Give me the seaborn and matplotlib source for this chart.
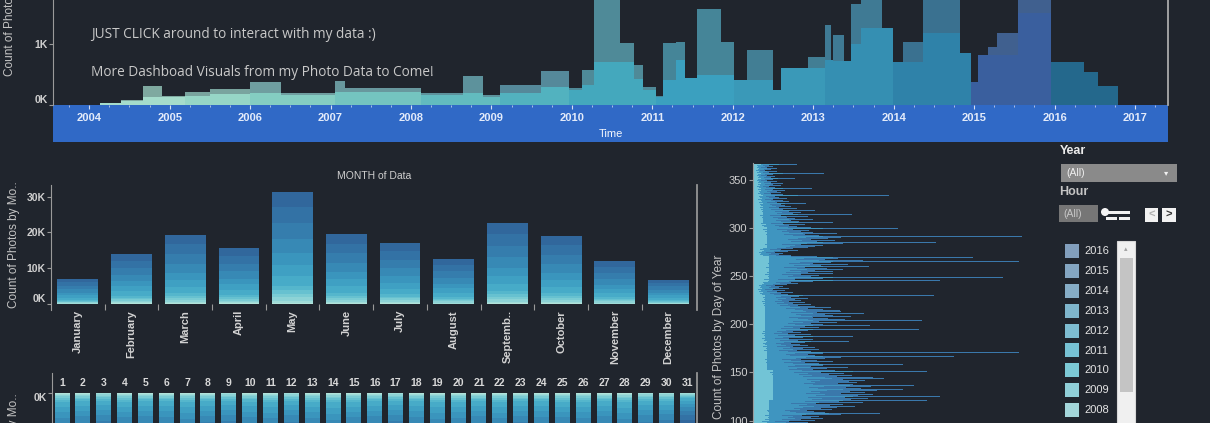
import numpy as np
import matplotlib
matplotlib.use("Agg")
import matplotlib.pyplot as plt
from matplotlib.patches import Rectangle, Circle
import seaborn as sns

BG = "#20252d"
W, H = 1210, 423

# timeline: start of each step (decimal year), back / front heights (photos)
tl_start = [2004.14, 2004.39, 2004.67, 2004.90, 2005.19, 2005.50, 2006.00, 2006.38,
            2007.06, 2007.18, 2008.12, 2008.65, 2008.90, 2009.11, 2009.61, 2009.96,
            2010.13, 2010.27, 2010.60, 2010.77, 2010.88, 2011.04, 2011.13, 2011.29,
            2011.41, 2011.56, 2011.85, 2012.01, 2012.18, 2012.50, 2012.60, 2012.94,
            2013.15, 2013.22, 2013.25, 2013.38, 2013.47, 2013.59, 2013.86, 2013.99,
            2014.12, 2014.36, 2014.83, 2014.96, 2015.05, 2015.17, 2015.29, 2015.54,
            2015.95, 2016.36, 2016.54]
tl_back = [30, 80, 310, 150, 210, 260, 380, 200,
           390, 280, 200, 475, 160, 330, 560, 275,
           575, 2100, 1015, 655, 290, 150, 1015, 1040,
           440, 1570, 1040, 410, 900, 245, 600, 790,
           1310, 740, 1150, 720, 1660, 2200, 1260, 705,
           1035, 2000, 850, 380, 820, 950, 1180, 2300,
           705, 540, 310]
tl_front = [30, 60, 130, 130, 150, 180, 200, 170,
            220, 220, 160, 200, 130, 200, 290, 250,
            330, 705, 705, 430, 250, 130, 410, 740,
            440, 490, 490, 410, 410, 245, 600, 600,
            740, 740, 720, 720, 1000, 1260, 1260, 705,
            705, 1180, 850, 380, 820, 820, 820, 1500,
            705, 540, 310]
tl_end = 2016.79
tl_ticks = list(range(2004, 2018))

years = list(range(2004, 2017))
year_front = ["#a5dccb", "#96d6c6", "#84cdc2", "#74c4c0", "#62bbbf", "#52b2bf", "#44a8bd",
              "#3ba0bf", "#3a99b8", "#358fb2", "#2f82a9", "#3a5f9e", "#24688c"]
year_back = ["#7fa9a0", "#79a49e", "#6f9ea0", "#68989e", "#5d929c", "#55899a", "#4f8a98",
             "#458598", "#427e94", "#3f7a94", "#3a7190", "#40608f", "#2b6589"]
year_share = [0.01, 0.02, 0.03, 0.03, 0.03, 0.04, 0.09, 0.10, 0.10, 0.13, 0.14, 0.14, 0.14]
stack_colors = ["#b2e3da", "#a0dcd8", "#8dd3d6", "#7acbd3", "#67c1d0", "#55b6cc", "#47abc8",
                "#3fa0c3", "#3a95bd", "#3789b5", "#357dad", "#3372a5", "#31679c"]

months = ["January", "February", "March", "April", "May", "June", "July",
          "August", "September", "October", "November", "December"]
month_labels = ["January", "February", "March", "April", "May", "June", "July",
                "August", "Septemb..", "October", "November", "December"]
month_counts = [7070, 14050, 19350, 15700, 31400, 19600, 17100, 12650, 22600, 19070, 11900, 6800]

dom_days = [str(d) for d in range(1, 32)]
dom_counts = [6900, 6400, 6100, 6800, 6500, 6600, 7200, 6300, 6000, 6700, 7000, 6200, 6900,
              7400, 6800, 6400, 6100, 6600, 7100, 6900, 6500, 7000, 6300, 6600, 6800, 6900,
              6400, 7300, 6200, 5900, 3900]

doy_first = 92
doy_counts = [45, 38, 52, 60, 41, 47, 55, 36, 62, 48,
              70, 58, 66, 49, 88, 127, 72, 61, 54, 79,
              95, 68, 84, 102, 77, 90, 63, 110, 86, 174,
              98, 115, 92, 187, 105, 120, 88, 112, 97, 124,
              150, 108, 93, 118, 161, 100, 85, 117, 104, 96,
              112, 90, 131, 120, 84, 99, 76, 91, 68, 174,
              82, 60, 74, 95, 58, 70, 150, 66, 52, 80,
              64, 48, 72, 57, 88, 201, 62, 55, 70, 266,
              58, 44, 66, 50, 62, 40, 55, 47, 38, 52,
              96, 45, 60, 36, 50, 100, 42, 58, 35, 48,
              62, 40, 55, 166, 47, 66, 52, 117, 70, 58,
              84, 66, 169, 92, 75, 60, 98, 80, 72, 111,
              64, 88, 87, 70, 55, 78, 50, 62, 45, 58,
              40, 52, 36, 48, 42, 55, 38, 46, 181, 35,
              28, 40, 24, 32, 20, 36, 26, 30, 22, 34,
              45, 38, 52, 60, 187, 42, 70, 250, 58, 66,
              48, 80, 55, 80, 62, 90, 74, 52, 116, 68,
              95, 60, 78, 266, 110, 72, 85, 220, 64, 50,
              38, 26, 30, 22, 35, 45, 28, 40, 55, 62,
              70, 48, 90, 183, 64, 82, 58, 75, 88, 269,
              66, 52, 84, 60, 48, 72, 56, 40, 145, 58,
              44, 36, 52, 30, 80, 46, 38, 60, 42, 34,
              55, 28, 99, 40, 48, 36, 62, 30, 44, 26,
              38, 50, 32, 28, 53, 24, 36, 30, 20, 34,
              26, 22, 136, 30, 18, 28, 24, 32, 20, 59,
              22, 16, 28, 20, 30, 18, 24, 14, 26, 20,
              42, 18, 22, 14, 20, 71, 16, 24, 12, 18,
              24, 14, 20, 16, 44]
month_len = [31, 29, 31, 30, 31, 30, 31, 31, 30, 31, 30, 31]
# how far the older-year colours reach in each month (same units as doy_counts)
doy_light_cap = [10, 10, 12, 16, 20, 14, 12, 12, 16, 14, 10, 8]
doy_mid_cap = [40, 50, 60, 90, 100, 70, 60, 50, 80, 70, 45, 30]
doy_light_share = 0.25
doy_mid_share = 0.6

legend_years = ["2016", "2015", "2014", "2013", "2012", "2011", "2010", "2009", "2008"]
legend_colors = ["#829fbd", "#84a6c2", "#86adc7", "#7fb6cd", "#7ebdd2", "#77c2d4",
                 "#7cc9d6", "#90cfd8", "#a3d6da"]

sns.set_theme(style="dark", rc={"figure.facecolor": BG, "axes.facecolor": BG,
                                "savefig.facecolor": BG})
plt.rcParams["font.family"] = ["Liberation Sans", "DejaVu Sans"]

TXT = "#cfcfcf"
SPINE = "#9a9a9a"

fig = plt.figure(figsize=(W / 100, H / 100), dpi=100)
ov = fig.add_axes([0, 0, 1, 1], zorder=0)
ov.set_xlim(0, W)
ov.set_ylim(H, 0)
ov.axis("off")


def px_axes(x0, y0, x1, y1):
    ax = fig.add_axes([x0 / W, 1 - y1 / H, (x1 - x0) / W, (y1 - y0) / H], zorder=1)
    ax.set_facecolor("none")
    for s in ax.spines.values():
        s.set_visible(False)
    return ax


def style_y(ax, ticks, labels, bold=True, size=7.5):
    ax.set_yticks(ticks)
    ax.set_yticklabels(labels, fontsize=size, color=TXT, fontweight="bold" if bold else "normal")
    ax.tick_params(axis="y", length=3, width=0.8, color=SPINE, pad=1, left=True)
    ax.spines["left"].set_visible(True)
    ax.spines["left"].set_color(SPINE)
    ax.spines["left"].set_linewidth(0.8)


# ---- timeline
axA = px_axes(53, 0, 1168, 105)
bounds = tl_start[1:] + [tl_end]
for x0, x1, b in zip(tl_start, bounds, tl_back):
    k = years.index(int(x0 + 0.05))
    axA.fill_between([x0, x1], 0, b, color=year_back[k], lw=0)
for x0, x1, f in zip(tl_start, bounds, tl_front):
    k = years.index(int(x0 + 0.05))
    axA.fill_between([x0, x1], 0, f, color=year_front[k], lw=0)
axA.set_xlim(2003.55, 2017.41)
axA.set_ylim(0, 1721)
axA.set_xticks(tl_ticks)
axA.set_xticklabels([str(t) for t in tl_ticks], fontsize=8, color="#e3ebfa", fontweight="bold")
axA.set_xticks(np.arange(2003.75, 2017.4, 0.25), minor=True)
axA.tick_params(axis="x", which="major", length=3, width=0.8, color="#d5def2", pad=3, bottom=True)
axA.tick_params(axis="x", which="minor", length=1.5, width=0.6, color="#c0cdea", bottom=True)
axA.set_xlabel("Time", fontsize=8, color="#f2f5fc", labelpad=4)
style_y(axA, [0, 1000], ["0K", "1K"])
axA.get_yticklabels()[0].set_verticalalignment("bottom")
axA.spines["right"].set_visible(True)
axA.spines["right"].set_color("#b0b0b0")
axA.grid(False)
ov.add_patch(Rectangle((53, 105), 1115, 37, color="#3069c6", lw=0))
fig.text(10 / W, 1 - 76 / H, "Count of Photos", rotation=90, va="bottom", ha="center",
         fontsize=8.5, color="#c4c4c4")
fig.text(91 / W, 1 - 34 / H, "JUST CLICK around to interact with my data :)", va="center",
         fontsize=9.8, color="#c9c9c9", family="Open Sans")
fig.text(91 / W, 1 - 73 / H, "More Dashboad Visuals from my Photo Data to Come!", va="center",
         fontsize=9.8, color="#c9c9c9", family="Open Sans")

# ---- month bars
axB = px_axes(51, 185, 697, 310)
cum_share = np.cumsum(year_share)
for k in range(len(years) - 1, -1, -1):
    sns.barplot(x=months, y=np.array(month_counts) * cum_share[k], order=months,
                color=stack_colors[k], width=0.76, saturation=1, errorbar=None,
                linewidth=0, ax=axB)
axB.set_xlim(-0.5, 11.53)
axB.set_ylim(-1680, 33240)
axB.set_xticks(range(12))
axB.set_xticklabels(month_labels, rotation=90, fontsize=8, color="#d2d2d2", fontweight="bold")
axB.set_xticks(np.arange(0.5, 11.5, 1), minor=True)
axB.tick_params(axis="x", which="major", length=0, pad=0)
axB.tick_params(axis="x", which="minor", length=4, width=0.8, color=SPINE, direction="in",
                bottom=True)
style_y(axB, [0, 10000, 20000, 30000], ["0K", "10K", "20K", "30K"])
axB.get_yticklabels()[0].set_verticalalignment("bottom")
axB.spines["right"].set_visible(True)
axB.spines["right"].set_color(SPINE)
axB.set_xlabel("")
axB.set_ylabel("")
axB.set_title("MONTH of Data", fontsize=7.5, color=TXT, pad=4)
fig.text(14 / W, 1 - 245 / H, "Count of Photos by Mo..", rotation=90, va="center",
         ha="center", fontsize=8.5, color="#c4c4c4")

# ---- day of month bars
axC = px_axes(52, 373, 697, 553)
for k in range(len(years) - 1, -1, -1):
    sns.barplot(x=dom_days, y=np.array(dom_counts) * cum_share[k], order=dom_days,
                color=stack_colors[k], width=0.72, saturation=1, errorbar=None,
                linewidth=0, ax=axC)
axC.set_xlim(-0.48, 30.46)
axC.set_ylim(20000, -2500)
axC.xaxis.tick_top()
axC.set_xticks(range(31))
axC.set_xticklabels(dom_days, fontsize=7.5, color="#d8d8d8", fontweight="bold")
axC.tick_params(axis="x", length=0, pad=-10.5, top=True, bottom=False)
style_y(axC, [0], ["0K"])
axC.get_yticklabels()[0].set_verticalalignment("top")
axC.spines["right"].set_visible(True)
axC.spines["right"].set_color(SPINE)
axC.set_xlabel("")
axC.set_ylabel("")
fig.text(14 / W, 1 - 393 / H, "Count of Photos by Mo..", rotation=90, va="top",
         ha="center", fontsize=8.5, color="#c4c4c4")

# ---- day of year bars
axD = px_axes(753, 162.7, 1045, 520)
doy_days = np.arange(doy_first, doy_first + len(doy_counts))
day_month = np.repeat(np.arange(12), month_len)[doy_days - 1]
doy_total = np.array(doy_counts, dtype=float)
doy_mid = np.minimum(doy_total * doy_mid_share, np.array(doy_mid_cap)[day_month])
doy_light = np.minimum(doy_total * doy_light_share, np.array(doy_light_cap)[day_month])
for vals, col in [(doy_total, "#3a78ab"), (doy_mid, "#3f95c0"), (doy_light, "#72c4d6")]:
    sns.barplot(x=vals, y=doy_days, orient="y", native_scale=True, color=col, width=1.0,
                saturation=1, errorbar=None, linewidth=0, ax=axD)
axD.set_ylim(-3.4, 368)
axD.set_xlim(0, 292)
axD.set_xticks([])
style_y(axD, [100, 150, 200, 250, 300, 350], ["100", "150", "200", "250", "300", "350"],
        bold=False, size=8)
axD.set_xlabel("")
axD.set_ylabel("")
fig.text(719 / W, 1 - 337 / H, "Count of Photos by Day of Year", rotation=90, va="center",
         ha="center", fontsize=8.5, color="#c4c4c4")

# ---- filter controls and legend
ov.text(1060, 151, "Year", fontsize=9, fontweight="bold", color="#ececec", va="center")
ov.add_patch(Rectangle((1061, 164), 116, 18, color="#8a8a8a", lw=0))
ov.text(1066, 173, "(All)", fontsize=7.5, color="#f0f0f0", va="center")
ov.text(1166, 173, "\u25be", fontsize=6, color="#f0f0f0", va="center", ha="center",
        family="DejaVu Sans")
ov.text(1059, 192, "Hour", fontsize=9, fontweight="bold", color="#c4c4c4", va="center")
ov.add_patch(Rectangle((1059, 205), 39, 17, color="#767676", lw=0))
ov.text(1063, 214, "(All)", fontsize=7.5, color="#c8c8c8", va="center")
ov.add_patch(Rectangle((1105, 211), 25, 3, color="#f0f0f0", lw=0))
ov.add_patch(Rectangle((1106, 217), 11, 3, color="#f0f0f0", lw=0))
ov.add_patch(Rectangle((1119, 217), 11, 3, color="#f0f0f0", lw=0))
ov.add_patch(Circle((1105, 212), 4, color="#f4f4f4", lw=0))
ov.add_patch(Rectangle((1145, 208), 13, 14, color="#f2f2f2", lw=0))
ov.add_patch(Rectangle((1162, 208), 14, 14, color="#f2f2f2", lw=0))
ov.text(1151.5, 215, "<", fontsize=8, color="#b0b0b0", va="center", ha="center", fontweight="bold")
ov.text(1169, 215, ">", fontsize=8, color="#333333", va="center", ha="center", fontweight="bold")
ov.add_patch(Rectangle((1117, 241), 18, 190, facecolor="#f0f0f0", edgecolor="#d8d8d8", lw=0.8))
ov.add_patch(Rectangle((1120, 258), 13, 134, color="#c4c4c4", lw=0))
ov.text(1126, 249, "\u25b4", fontsize=5, color="#a0a0a0", va="center", ha="center",
        family="DejaVu Sans")
for i, (lab, col) in enumerate(zip(legend_years, legend_colors)):
    yc = 251 + i * 19.9
    ov.add_patch(Rectangle((1065, yc - 7), 14, 14, color=col, lw=0))
    ov.text(1084, yc, lab, fontsize=8, color="#e4e4e4", va="center")

fig.savefig("out.png", dpi=100, facecolor=BG)
